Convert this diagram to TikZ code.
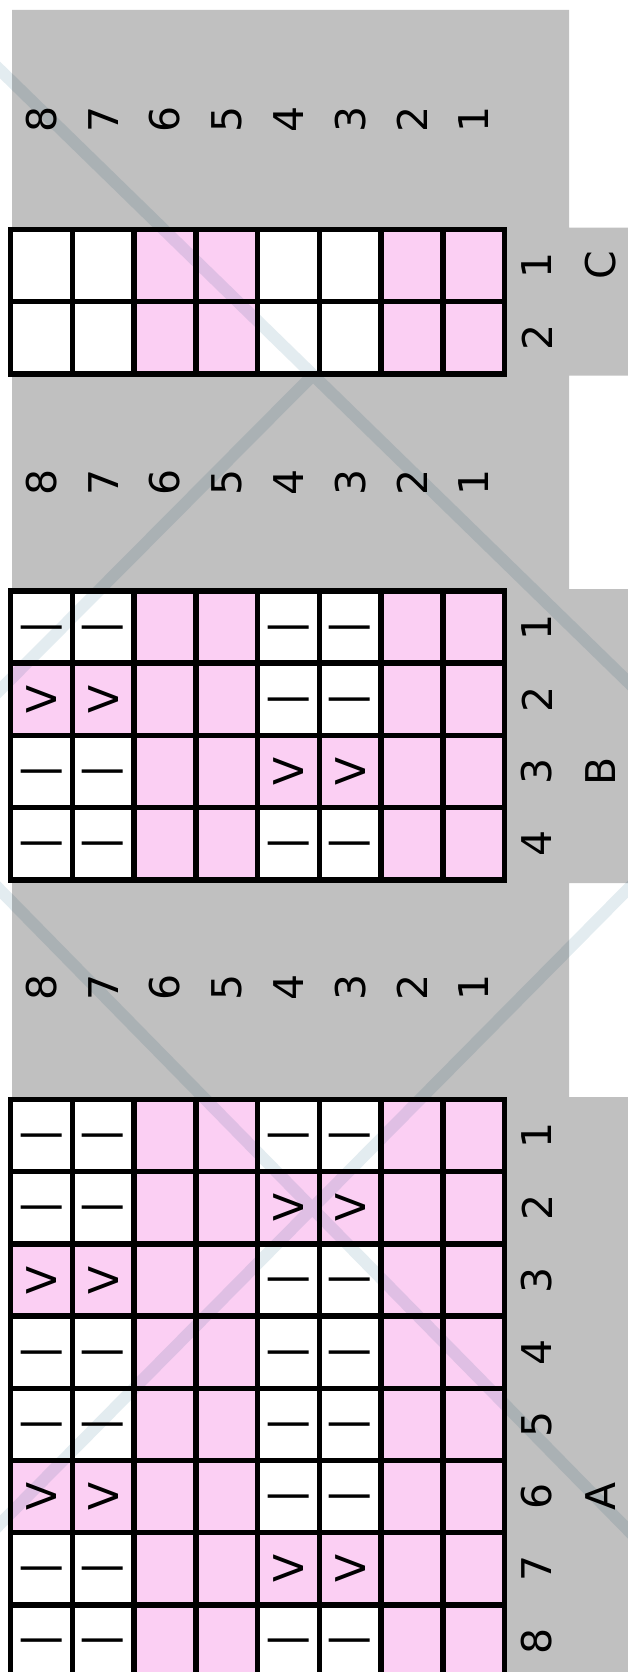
\documentclass[tikz,border=0pt]{standalone}
\usepackage{fontspec}
\setmainfont{DejaVu Sans}
\definecolor{chartgray}{HTML}{C0C0C0}
\definecolor{chartpink}{HTML}{FBCFF3}
\definecolor{wmark}{HTML}{E3ECF0}
\tikzset{
  cellline/.style={line width=5.5pt, draw=black},
  cell p/.style={fill=chartpink},
  cell v/.style={fill=chartpink},
  cell w/.style={fill=white},
  cell k/.style={fill=white},
  lbl/.style={rotate=90, inner sep=0pt, text=black, font=\fontsize{41}{45}\selectfont},
  wm/.style={line width=12pt, draw=wmark, line cap=butt},
}
% #1 name, #2 top y, #3 rows, #4 number of rows, #5 label y, #6 letter, #7 letter row
\newcommand\knitchart[7]{%
  \foreach \rowlist [count=\r] in {#3} {
    \foreach \code [count=\j from 0] in \rowlist {
      \path[cell \code] ({10.5+\j*61.75},{#2+(\r-1)*72.2}) rectangle ++(61.75,72.2);
      \if k\code
        \node[lbl] (#1-\r-\j) at ({10.5+(\j+0.5)*61.75},{#2+(\r-0.5)*72.2}) {|};
      \fi
      \if v\code
        \node[lbl] (#1-\r-\j) at ({10.5+(\j+0.5)*61.75},{#2+(\r-0.5)*72.2}) {V};
      \fi
    }
  }
  \foreach \j in {1,...,7}
    \draw[cellline] ({10.5+\j*61.75},#2) -- ++(0,{#4*72.2});
  \ifnum#4>1
  \foreach \r in {2,...,#4}
    \draw[cellline] (10.5,{#2+(\r-1)*72.2}) -- ++(494,0);
  \fi
  \draw[cellline] (10.5,#2) rectangle (504.5,{#2+#4*72.2});
  \foreach \t [count=\j from 0] in {8,7,6,5,4,3,2,1}
    \node[lbl] (#1-col-\t) at ({10.5+(\j+0.5)*61.75},#5) {\t};
  \foreach \r in {1,...,#4}
    \node[lbl] (#1-row-\r) at (537,{#2+(\r-0.5)*72.2}) {\r};
  \node[lbl] (#1-name) at (601,{#2+(#7-0.5)*72.2}) {#6};
}
\begin{document}
\begin{tikzpicture}[x=1pt,y=-1pt]
\useasboundingbox (0,0) rectangle (628,1672);
\clip (0,0) rectangle (628,1672);
% grey background with tabs
\fill[chartgray] (12,10) -- (569,10) -- (569,227.5) -- (628,227.5) -- (628,375.5)
  -- (569,375.5) -- (569,589) -- (628,589) -- (628,883) -- (569,883) -- (569,1097)
  -- (628,1097) -- (628,1690) -- (12,1690) -- cycle;
% chart C
\knitchart{C}{229.5}{{w,w,p,p,w,w,p,p},{w,w,p,p,w,w,p,p}}{2}{119}{C}{1}
% chart B
\knitchart{B}{591}{{k,k,p,p,k,k,p,p},{v,v,p,p,k,k,p,p},{k,k,p,p,v,v,p,p},{k,k,p,p,k,k,p,p}}{4}{482}{B}{3}
% chart A
\knitchart{A}{1099.5}{{k,k,p,p,k,k,p,p},{k,k,p,p,v,v,p,p},{v,v,p,p,k,k,p,p},{k,k,p,p,k,k,p,p},{k,k,p,p,k,k,p,p},{v,v,p,p,k,k,p,p},{k,k,p,p,v,v,p,p},{k,k,p,p,k,k,p,p}}{8}{987}{A}{6}
% watermark stripes
\coordinate (w1a) at (-20,50.5);
\coordinate (w1b) at (648,701.5);
\coordinate (w2a) at (-20,710);
\coordinate (w2b) at (313,375);
\coordinate (w3a) at (-20,869.6);
\coordinate (w3b) at (648,1550.4);
\coordinate (w4a) at (-20,1544.2);
\coordinate (w4b) at (648,868.8);
\begin{scope}[blend mode=multiply]
\draw[wm] (w1a) -- (w1b) (w2a) -- (w2b) (w3a) -- (w3b) (w4a) -- (w4b);
\end{scope}
\end{tikzpicture}
\end{document}
